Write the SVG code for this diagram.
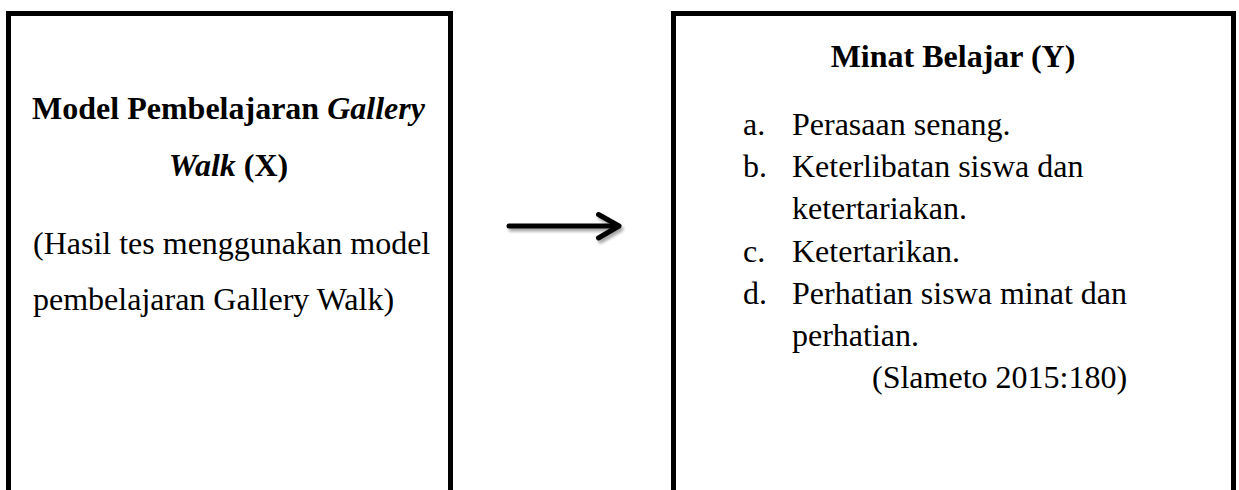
<svg xmlns="http://www.w3.org/2000/svg" width="1239" height="490" viewBox="0 0 1239 490">
  <defs>
    <style>
      .box { fill: #ffffff; stroke: #000000; stroke-width: 5; }
      .t { font-family: "Liberation Serif", "Times New Roman", serif; font-size: 32px; fill: #000000; }
      .b { font-weight: bold; }
      .i { font-style: italic; }
      .conn { fill: none; stroke: #000000; stroke-width: 5; stroke-linecap: round; stroke-linejoin: round; }
    </style>
    <filter id="shadow" x="-10%" y="-50%" width="130%" height="250%">
      <feGaussianBlur in="SourceAlpha" stdDeviation="1.5"/>
      <feOffset dx="1.5" dy="2.5" result="o"/>
      <feComponentTransfer><feFuncA type="linear" slope="0.35"/></feComponentTransfer>
      <feMerge><feMergeNode/><feMergeNode in="SourceGraphic"/></feMerge>
    </filter>
  </defs>
  <rect width="1239" height="490" fill="#ffffff"/>

  <g id="node-x">
    <rect class="box" x="8.5" y="13.5" width="442" height="520"/>
    <text class="t b" x="228.5" y="119" text-anchor="middle">Model Pembelajaran <tspan class="i">Gallery</tspan></text>
    <text class="t b" x="228.5" y="176" text-anchor="middle"><tspan class="i">Walk</tspan> (X)</text>
    <text class="t" x="33" y="254">(Hasil tes menggunakan model</text>
    <text class="t" x="33" y="310">pembelajaran Gallery Walk)</text>
  </g>

  <g id="node-y">
    <rect class="box" x="673.5" y="13.5" width="560" height="520"/>
    <text class="t b" x="953" y="67" text-anchor="middle">Minat Belajar (Y)</text>
    <text class="t" x="743" y="135">a.</text>
    <text class="t" x="792" y="135">Perasaan senang.</text>
    <text class="t" x="743" y="177">b.</text>
    <text class="t" x="792" y="177">Keterlibatan siswa dan</text>
    <text class="t" x="792" y="219">ketertariakan.</text>
    <text class="t" x="743" y="261.5">c.</text>
    <text class="t" x="792" y="261.5">Ketertarikan.</text>
    <text class="t" x="743" y="304">d.</text>
    <text class="t" x="792" y="304">Perhatian siswa minat dan</text>
    <text class="t" x="792" y="346">perhatian.</text>
    <text class="t" x="872" y="388">(Slameto 2015:180)</text>
  </g>

  <g id="connectors" filter="url(#shadow)">
    <path class="conn" d="M509 226 H617"/>
    <path class="conn" d="M598.5 214.5 L619 226 L598.5 238"/>
  </g>
</svg>
